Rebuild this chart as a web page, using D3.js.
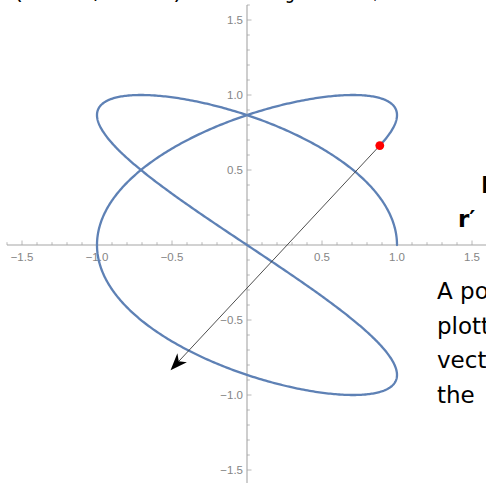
<!DOCTYPE html>
<html>
<head>
<meta charset="utf-8">
<script src="https://cdn.jsdelivr.net/npm/d3@7"></script>
<style>
  html, body { margin: 0; padding: 0; background: #fff; overflow: hidden; }
  svg { display: block; }
</style>
</head>
<body>
<svg id="chart" width="486" height="483"></svg>
<script>
// Parametric curve r(t) = (cos(a t), sin(b t)), traced for t in [t0, t1]
const frequencies = [3, 2];
const tRange = [0, 4.35];
const sampleCount = 900;

// Axis ticks
const majorTicks = [-1.5, -1.0, -0.5, 0.5, 1.0, 1.5];
const minorTicks = d3.range(-16, 17).map(k => k / 10);
const tickLabels = ["−1.5", "−1.0", "−0.5", "0.5", "1.0", "1.5"];

// Surrounding document text
const headerPieces = ["(cos 3t,", "sin 2t)", "traced along", "the curve,"];
const sideHeading = ["I", "r′"];
const sideLines = ["A point on the curve is", "plotted with its velocity", "vector r′ drawn from", "the  endpoint."];

const W = 486, H = 483;
const svg = d3.select("#chart");

const x = d3.scaleLinear().domain([-1.6, 1.6]).range([7, 487]);
const y = d3.scaleLinear().domain([-1.6, 1.6]).range([485, 5]);

const [a, b] = frequencies;
const pos = t => [Math.cos(a * t), Math.sin(b * t)];
const vel = t => [-a * Math.sin(a * t), b * Math.cos(b * t)];

const axisColor = "#a6a6a6";
const labelColor = "#858585";

// Axes through the origin
const axes = svg.append("g");
axes.append("line").attr("x1", x(-1.6)).attr("x2", x(1.6))
  .attr("y1", y(0)).attr("y2", y(0))
  .attr("stroke", axisColor).attr("stroke-width", 1.1);
axes.append("line").attr("x1", x(0)).attr("x2", x(0))
  .attr("y1", y(1.6)).attr("y2", y(-1.6))
  .attr("stroke", axisColor).attr("stroke-width", 1.1);

const isMajor = v => majorTicks.some(m => Math.abs(m - v) < 1e-9);

// x ticks point upward, y ticks point right
axes.selectAll(".xt").data(minorTicks).join("line")
  .attr("x1", d => x(d)).attr("x2", d => x(d))
  .attr("y1", y(0)).attr("y2", d => y(0) - (isMajor(d) ? 4.5 : 2.8))
  .attr("stroke", axisColor).attr("stroke-width", 0.8);
axes.selectAll(".yt").data(minorTicks).join("line")
  .attr("y1", d => y(d)).attr("y2", d => y(d))
  .attr("x1", x(0)).attr("x2", d => x(0) + (isMajor(d) ? 4.5 : 2.8))
  .attr("stroke", axisColor).attr("stroke-width", 0.8);

axes.selectAll(".xl").data(majorTicks).join("text")
  .attr("x", d => x(d)).attr("y", y(0) + 16)
  .attr("text-anchor", "middle")
  .attr("font-family", "Liberation Sans, Arial, sans-serif")
  .attr("font-size", 11.5).attr("fill", labelColor)
  .text((d, i) => tickLabels[i]);
axes.selectAll(".yl").data(majorTicks).join("text")
  .attr("x", x(0) - 4).attr("y", d => y(d) + 4)
  .attr("text-anchor", "end")
  .attr("font-family", "Liberation Sans, Arial, sans-serif")
  .attr("font-size", 11.5).attr("fill", labelColor)
  .text((d, i) => tickLabels[i]);

// The curve
const ts = d3.range(sampleCount + 1).map(i => tRange[0] + (tRange[1] - tRange[0]) * i / sampleCount);
const line = d3.line().x(p => x(p[0])).y(p => y(p[1]));
svg.append("path")
  .attr("d", line(ts.map(pos)))
  .attr("fill", "none").attr("stroke", "#5e81b5")
  .attr("stroke-width", 2.3).attr("stroke-linejoin", "round").attr("stroke-linecap", "round");

// Velocity vector at the end point
const tEnd = tRange[1];
const p0 = pos(tEnd), v0 = vel(tEnd);
const p1 = [p0[0] + v0[0], p0[1] + v0[1]];
const sx = x(p0[0]), sy = y(p0[1]), ex = x(p1[0]), ey = y(p1[1]);
const len = Math.hypot(ex - sx, ey - sy);
const ux = (ex - sx) / len, uy = (ey - sy) / len;
const nx = -uy, ny = ux;
const headLen = 17, headHalf = 6.5, notch = 12;
svg.append("line")
  .attr("x1", sx).attr("y1", sy)
  .attr("x2", ex - ux * notch).attr("y2", ey - uy * notch)
  .attr("stroke", "#3a3a3a").attr("stroke-width", 0.9);
const head = [
  [ex, ey],
  [ex - ux * headLen + nx * headHalf, ey - uy * headLen + ny * headHalf],
  [ex - ux * notch, ey - uy * notch],
  [ex - ux * headLen - nx * headHalf, ey - uy * headLen - ny * headHalf]
];
svg.append("path")
  .attr("d", "M" + head.map(p => p.join(",")).join("L") + "Z")
  .attr("fill", "#000");

// Current point
svg.append("circle").attr("cx", sx).attr("cy", sy).attr("r", 4.4).attr("fill", "#ff0000");

// Text of the surrounding page
const hdr = svg.append("g").attr("font-family", "DejaVu Sans, sans-serif")
  .attr("font-size", 22).attr("fill", "#000");
const hdrX = [14, 110, 192, 302], hdrW = [86, 72, 103, 76];
headerPieces.forEach((s, i) => {
  hdr.append("text").attr("x", hdrX[i]).attr("y", -1)
    .attr("textLength", hdrW[i]).attr("lengthAdjust", "spacingAndGlyphs").text(s);
});

const side = svg.append("g").attr("font-family", "DejaVu Sans, sans-serif").attr("fill", "#000");
side.append("text").attr("x", 481).attr("y", 193).attr("font-size", 23).attr("font-weight", "bold").text(sideHeading[0]);
side.append("text").attr("x", 458).attr("y", 227).attr("font-size", 23).attr("font-weight", "bold").text(sideHeading[1]);
sideLines.forEach((s, i) => {
  side.append("text").attr("x", 437).attr("y", 299 + i * 34.5).attr("font-size", 23)
    .attr("xml:space", "preserve").style("white-space", "pre").text(s);
});
</script>
</body>
</html>
